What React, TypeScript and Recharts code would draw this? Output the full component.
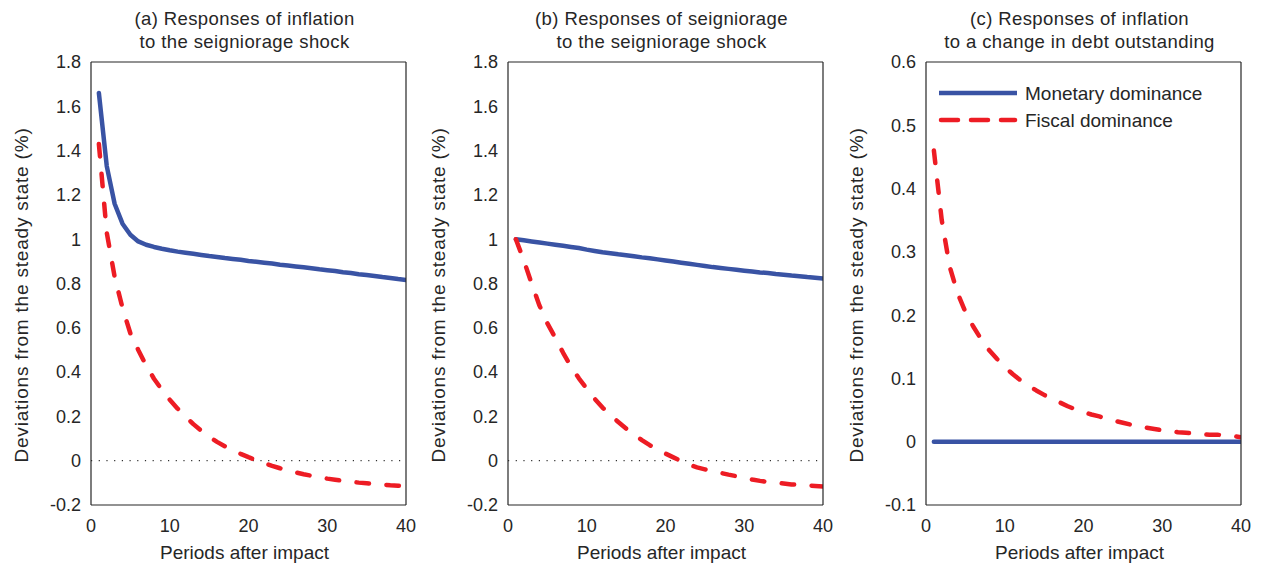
import React from 'react';
import { LineChart, Line, XAxis, YAxis, ReferenceLine } from 'recharts';

const FONT = '"Liberation Sans", Arial, Helvetica, sans-serif';
const BLUE = '#3953a4';
const RED = '#ed1c24';
const INK = '#262626';

const periods = [1, 2, 3, 4, 5, 6, 7, 8, 9, 10, 11, 12, 13, 14, 15, 16, 17, 18, 19, 20,
  21, 22, 23, 24, 25, 26, 27, 28, 29, 30, 31, 32, 33, 34, 35, 36, 37, 38, 39, 40];

const xTicks = [0, 10, 20, 30, 40];
const yTicksAB = [-0.2, 0, 0.2, 0.4, 0.6, 0.8, 1, 1.2, 1.4, 1.6, 1.8];
const yTicksC = [-0.1, 0, 0.1, 0.2, 0.3, 0.4, 0.5, 0.6];

const seriesNames = ['Monetary dominance', 'Fiscal dominance'];

const titlesA = ['(a) Responses of inflation', 'to the seigniorage shock'];
const titlesB = ['(b) Responses of seigniorage', 'to the seigniorage shock'];
const titlesC = ['(c) Responses of inflation', 'to a change in debt outstanding'];
const xLabel = 'Periods after impact';
const yLabel = 'Deviations from the steady state (%)';

const inflationSeigMonetary = [1.66, 1.33, 1.16, 1.07, 1.02, 0.99, 0.975, 0.965, 0.957, 0.95,
  0.944, 0.939, 0.934, 0.929, 0.924, 0.92, 0.915, 0.911, 0.907, 0.902,
  0.898, 0.894, 0.89, 0.885, 0.881, 0.877, 0.873, 0.869, 0.864, 0.86,
  0.856, 0.851, 0.847, 0.842, 0.838, 0.834, 0.829, 0.825, 0.82, 0.816];
const inflationSeigFiscal = [1.43, 1.03, 0.83, 0.69, 0.575, 0.5, 0.43, 0.37, 0.32, 0.275,
  0.235, 0.2, 0.165, 0.135, 0.108, 0.085, 0.065, 0.047, 0.031, 0.016,
  0.002, -0.011, -0.023, -0.034, -0.044, -0.053, -0.061, -0.068, -0.075, -0.081,
  -0.086, -0.091, -0.095, -0.099, -0.102, -0.105, -0.108, -0.111, -0.113, -0.116];

const seigSeigMonetary = [1.0, 0.995, 0.99, 0.985, 0.98, 0.975, 0.97, 0.965, 0.96, 0.953,
  0.947, 0.941, 0.937, 0.932, 0.928, 0.923, 0.918, 0.914, 0.909, 0.904,
  0.899, 0.894, 0.889, 0.884, 0.879, 0.874, 0.87, 0.866, 0.862, 0.858,
  0.854, 0.85, 0.847, 0.843, 0.84, 0.836, 0.833, 0.829, 0.826, 0.823];
const seigSeigFiscal = [1.0, 0.905, 0.8, 0.7, 0.62, 0.555, 0.487, 0.425, 0.372, 0.325,
  0.28, 0.24, 0.205, 0.175, 0.145, 0.118, 0.093, 0.07, 0.05, 0.032,
  0.015, -0.002, -0.018, -0.03, -0.039, -0.047, -0.055, -0.063, -0.07, -0.077,
  -0.085, -0.091, -0.096, -0.1, -0.103, -0.107, -0.109, -0.112, -0.114, -0.116];

const inflationDebtMonetary = [0, 0, 0, 0, 0, 0, 0, 0, 0, 0,
  0, 0, 0, 0, 0, 0, 0, 0, 0, 0,
  0, 0, 0, 0, 0, 0, 0, 0, 0, 0,
  0, 0, 0, 0, 0, 0, 0, 0, 0, 0];
const inflationDebtFiscal = [0.46, 0.35, 0.277, 0.235, 0.205, 0.182, 0.162, 0.145, 0.131, 0.118,
  0.107, 0.097, 0.089, 0.081, 0.074, 0.067, 0.062, 0.056, 0.051, 0.047,
  0.043, 0.04, 0.036, 0.033, 0.03, 0.027, 0.025, 0.022, 0.02, 0.018,
  0.017, 0.015, 0.014, 0.013, 0.012, 0.011, 0.011, 0.01, 0.009, 0.007];

function buildRows(mon: number[], fis: number[]) {
  return periods.map((t, i) => ({ t, monetary: mon[i], fiscal: fis[i] }));
}

const LegendBox = () => (
  <svg width={280} height={56} style={{ display: 'block' }}>
    <line x1={2} y1={13} x2={80} y2={13} stroke={BLUE} strokeWidth={4.5} />
    <text x={88} y={13} dominantBaseline="central" fontSize={19} fontFamily={FONT} fill={INK}>
      {seriesNames[0]}
    </text>
    <line x1={4} y1={40} x2={78} y2={40} stroke={RED} strokeWidth={4.5}
      strokeDasharray="17 13" strokeLinecap="round" />
    <text x={88} y={40} dominantBaseline="central" fontSize={19} fontFamily={FONT} fill={INK}>
      {seriesNames[1]}
    </text>
  </svg>
);

type PanelProps = {
  left: number;
  width: number;
  yAxisWidth: number;
  rightMargin: number;
  rows: { t: number; monetary: number; fiscal: number }[];
  yDomain: [number, number];
  yTicks: number[];
  zeroLine: boolean;
  legend: boolean;
  titles: string[];
};

function Panel(p: PanelProps) {
  const plotLeft = p.yAxisWidth;
  const plotRight = p.width - p.rightMargin;
  const cx = (plotLeft + plotRight) / 2 - 4;
  const tickStyle = { fill: INK, fontSize: 18, fontFamily: FONT };
  return (
    <div style={{ position: 'absolute', left: p.left, top: 0, width: p.width, height: 569 }}>
      <div style={{
        position: 'absolute', left: cx - 200, top: 7, width: 400, textAlign: 'center',
        fontFamily: FONT, fontSize: 18.5, lineHeight: '23px', color: INK, letterSpacing: 0.4,
      }}>
        <div>{p.titles[0]}</div>
        <div>{p.titles[1]}</div>
      </div>
      <div style={{
        position: 'absolute', left: cx - 200, top: 543, width: 400, textAlign: 'center',
        fontFamily: FONT, fontSize: 19, lineHeight: '19px', color: INK,
      }}>{xLabel}</div>
      <div style={{
        position: 'absolute', left: plotLeft - 69 - 250, top: 295 - 10, width: 500, height: 20,
        textAlign: 'center', fontFamily: FONT, fontSize: 19, lineHeight: '20px', color: INK,
        letterSpacing: 0.8, transform: 'rotate(-90deg)', transformOrigin: '50% 50%', whiteSpace: 'nowrap',
      }}>{yLabel}</div>
      <LineChart width={p.width} height={569} data={p.rows}
        margin={{ top: 62, right: p.rightMargin, bottom: 0, left: 0 }}>
        <XAxis xAxisId="b" dataKey="t" type="number" domain={[0, 40]} ticks={xTicks} interval={0}
          height={64} tickLine={false} axisLine={false} tickSize={6} tickMargin={8}
          tick={tickStyle} allowDataOverflow />
        <XAxis xAxisId="bm" orientation="bottom" mirror dataKey="t" type="number" domain={[0, 40]}
          ticks={xTicks} interval={0} height={1} tick={false} tickSize={5} stroke={INK} strokeWidth={1.2}
          allowDataOverflow />
        <XAxis xAxisId="tm" orientation="top" mirror dataKey="t" type="number" domain={[0, 40]}
          ticks={xTicks} interval={0} height={1} tick={false} tickSize={5} stroke={INK} strokeWidth={1.2}
          allowDataOverflow />
        <YAxis yAxisId="l" type="number" domain={p.yDomain} ticks={p.yTicks} interval={0}
          width={p.yAxisWidth} tickLine={false} axisLine={false} tickSize={6} tickMargin={4}
          tick={tickStyle} allowDataOverflow />
        <YAxis yAxisId="lm" orientation="left" mirror type="number" domain={p.yDomain} ticks={p.yTicks}
          interval={0} width={1} tick={false} tickSize={5} stroke={INK} strokeWidth={1.2} allowDataOverflow />
        <YAxis yAxisId="rm" orientation="right" mirror type="number" domain={p.yDomain} ticks={p.yTicks}
          interval={0} width={1} tick={false} tickSize={5} stroke={INK} strokeWidth={1.2} allowDataOverflow />
        {p.zeroLine && (
          <ReferenceLine xAxisId="b" yAxisId="l" y={0} stroke="#000" strokeWidth={1}
            strokeDasharray="1.2 6.5" />
        )}
        <Line xAxisId="b" yAxisId="l" dataKey="monetary" name={seriesNames[0]} stroke={BLUE}
          strokeWidth={4.5} dot={false} isAnimationActive={false} strokeLinecap="round" strokeLinejoin="round" />
        <Line xAxisId="b" yAxisId="l" dataKey="fiscal" name={seriesNames[1]} stroke={RED}
          strokeWidth={4.5} strokeDasharray="12.5 17.5" dot={false} isAnimationActive={false}
          strokeLinecap="round" strokeLinejoin="round" />
      </LineChart>
      {p.legend && (
        <div style={{ position: 'absolute', left: plotLeft + 11, top: 80 }}>
          <LegendBox />
        </div>
      )}
    </div>
  );
}

export default function App() {
  return (
    <div style={{ position: 'absolute', left: 0, top: 0, width: 1264, height: 569, background: '#fff' }}>
      <Panel left={0} width={420} yAxisWidth={91} rightMargin={14}
        rows={buildRows(inflationSeigMonetary, inflationSeigFiscal)}
        yDomain={[-0.2, 1.8]} yTicks={yTicksAB} zeroLine legend={false} titles={titlesA} />
      <Panel left={420} width={420} yAxisWidth={88} rightMargin={17}
        rows={buildRows(seigSeigMonetary, seigSeigFiscal)}
        yDomain={[-0.2, 1.8]} yTicks={yTicksAB} zeroLine legend={false} titles={titlesB} />
      <Panel left={840} width={424} yAxisWidth={86} rightMargin={23}
        rows={buildRows(inflationDebtMonetary, inflationDebtFiscal)}
        yDomain={[-0.1, 0.6]} yTicks={yTicksC} zeroLine={false} legend titles={titlesC} />
    </div>
  );
}
